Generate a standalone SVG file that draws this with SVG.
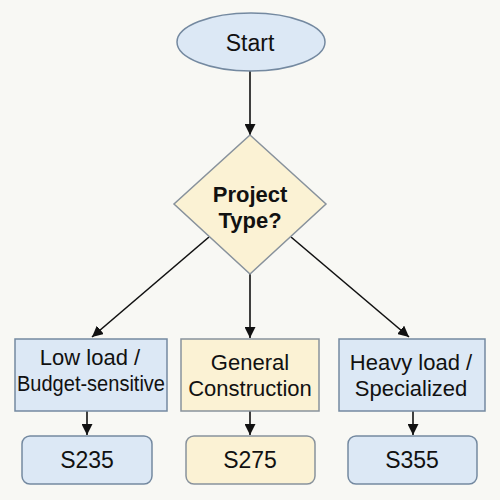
<svg xmlns="http://www.w3.org/2000/svg" width="500" height="500" viewBox="0 0 500 500">
<style>
text{font-family:"Liberation Sans",Arial,sans-serif;fill:#111;text-anchor:middle;dominant-baseline:central}
.blue{fill:#dce8f5;stroke:#7489a0;stroke-width:1.5}
.yel{fill:#fbf2d4;stroke:#88929c;stroke-width:1.5}
.t{font-size:22px}
.s{font-size:23px}
.c line{stroke:#111;stroke-width:1.6;marker-end:url(#ah)}
</style>
<defs>
<marker id="ah" viewBox="0 0 10 10" refX="10" refY="5" markerWidth="11" markerHeight="11" markerUnits="userSpaceOnUse" orient="auto">
<path d="M0,0 L10,5 L0,10 z" fill="#111"/>
</marker>
</defs>
<rect width="500" height="500" fill="#f8f8f4"/>
<g class="c">
<line x1="250" y1="71" x2="250" y2="135"/>
<line x1="209" y1="237" x2="92" y2="337"/>
<line x1="250" y1="274" x2="250" y2="338"/>
<line x1="291" y1="237" x2="409" y2="337"/>
<line x1="87" y1="411" x2="87" y2="435"/>
<line x1="250" y1="411" x2="250" y2="435"/>
<line x1="413" y1="411" x2="413" y2="435"/>
</g>
<g id="start"><ellipse class="blue" cx="251" cy="42" rx="74" ry="29"/><text x="250" y="43" style="font-size:23px">Start</text></g>
<g id="decision"><polygon class="yel" points="250,135 326,204 250,274 174,204"/><text x="250" y="194" style="font-size:22px;font-weight:bold">Project</text><text x="250" y="220" style="font-size:22px;font-weight:bold">Type?</text></g>
<g id="low"><rect class="blue" x="15" y="339" width="152" height="72"/><text class="t" x="90" y="357">Low load /</text><text class="t" x="91" y="383" textLength="148" lengthAdjust="spacingAndGlyphs">Budget-sensitive</text></g>
<g id="general"><rect class="yel" x="181" y="339" width="138" height="72"/><text class="t" x="250" y="362">General</text><text class="t" x="250" y="388">Construction</text></g>
<g id="heavy"><rect class="blue" x="339" y="339" width="146" height="72"/><text class="t" x="411" y="362">Heavy load /</text><text class="t" x="411" y="388">Specialized</text></g>
<g id="s235"><rect class="blue" x="22" y="436" width="130" height="48" rx="8"/><text class="s" x="87" y="460">S235</text></g>
<g id="s275"><rect class="yel" x="186" y="436" width="129" height="48" rx="8"/><text class="s" x="250" y="460">S275</text></g>
<g id="s355"><rect class="blue" x="348" y="436" width="129" height="48" rx="8"/><text class="s" x="412" y="460">S355</text></g>
</svg>
